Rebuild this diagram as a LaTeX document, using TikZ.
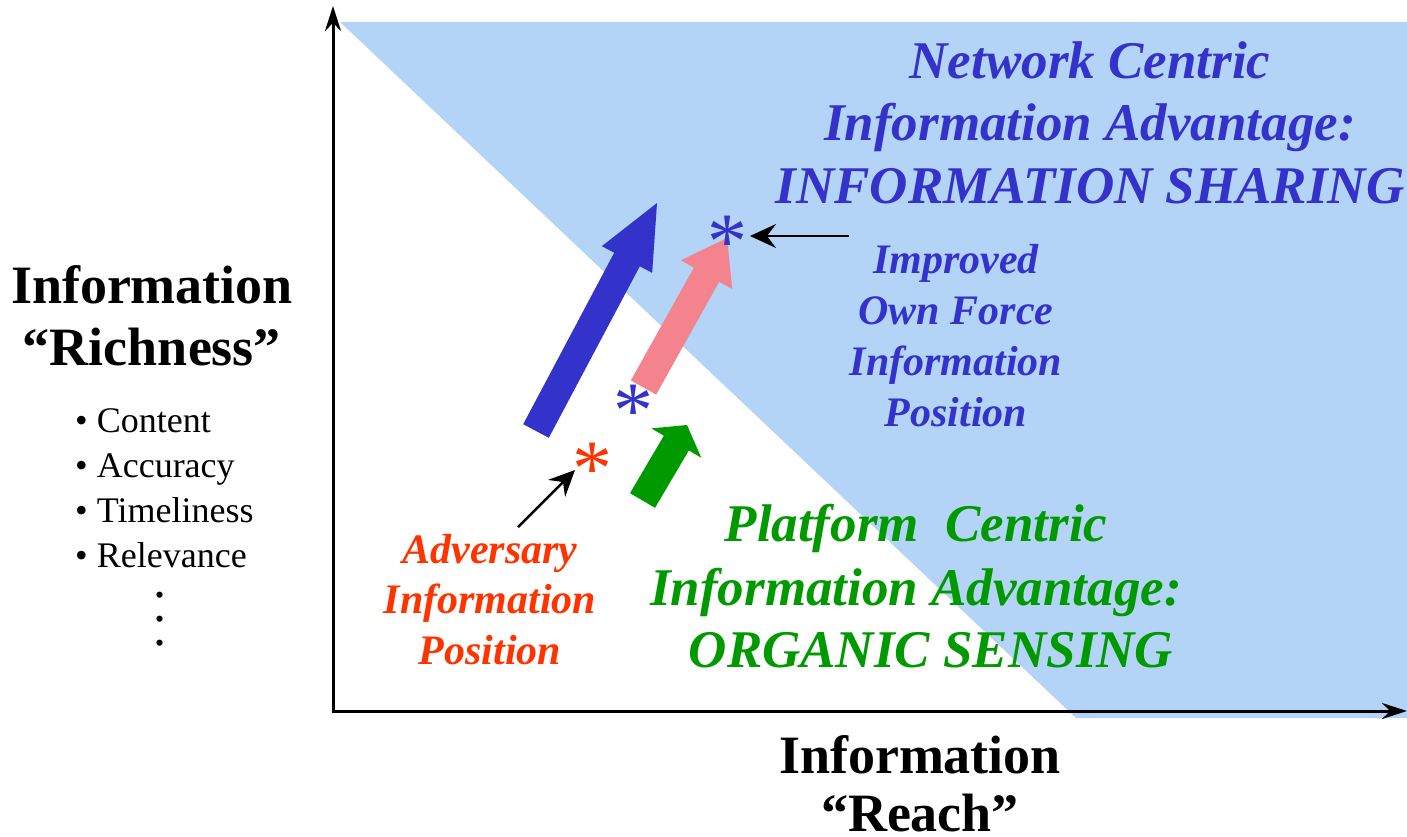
\documentclass[tikz,border=0pt]{standalone}
\usepackage{fontspec}
\setmainfont{Liberation Serif}
\usetikzlibrary{calc,arrows.meta}
\definecolor{ncblue}{RGB}{51,51,204}
\definecolor{pcgreen}{RGB}{0,153,0}
\definecolor{advred}{RGB}{255,51,0}
\definecolor{shadeblue}{RGB}{180,212,247}
\definecolor{pinkarr}{RGB}{243,132,142}
% block arrow: #1 tail, #2 tip, #3 shaft half width, #4 head half width, #5 head length, #6 fill
\newcommand{\blkarrow}[6]{%
  \path ($(#2)!#5!(#1)$) coordinate (hb);
  \fill[#6] ($(#1)!#3!90:(#2)$) -- ($(hb)!#3!90:(#2)$) -- ($(hb)!#4!90:(#2)$) -- (#2)
    -- ($(hb)!#4!-90:(#2)$) -- ($(hb)!#3!-90:(#2)$) -- ($(#1)!#3!-90:(#2)$) -- cycle;}
\begin{document}
\begin{tikzpicture}[x=1pt,y=-1pt,
  lbl/.style={inner sep=0pt, anchor=base},
  bigbi/.style={lbl, font=\fontsize{53}{62}\selectfont\bfseries\itshape},
  midbi/.style={lbl, font=\fontsize{42}{51}\selectfont\bfseries\itshape},
  axtitle/.style={lbl, font=\fontsize{54}{60}\selectfont\bfseries},
  bullet/.style={inner sep=0pt, anchor=base west, font=\fontsize{36}{44}\selectfont},
  ast/.style={inner sep=0pt, anchor=north, font=\fontsize{80}{80}\selectfont},
  axis/.style={line width=3pt, {Stealth[length=25pt,width=16pt]}-{Stealth[length=25pt,width=16pt]}},
  ptr/.style={line width=2.5pt, -{Stealth[length=26pt,width=24pt,inset=9pt]}}
]
\useasboundingbox (0,0) rectangle (1407,836);
% shaded region
\fill[shadeblue] (340,22) -- (1410,22) -- (1410,718) -- (1076,718) -- cycle;
% axes
\coordinate (O) at (333,711);
\coordinate (Ytip) at (333,6);
\coordinate (Xtip) at (1407,711);
\draw[axis] (Ytip) -- (O) -- (Xtip);
% block arrows
\coordinate (bT) at (536,431); \coordinate (bP) at (657,203);
\blkarrow{bT}{bP}{14.5pt}{28.5pt}{64pt}{ncblue}
\coordinate (pT) at (643.5,387.5); \coordinate (pP) at (727,238);
\blkarrow{pT}{pP}{14.5pt}{29.5pt}{42pt}{pinkarr}
\coordinate (gT) at (642.5,500.5); \coordinate (gP) at (687,425);
\blkarrow{gT}{gP}{14.5pt}{29pt}{21pt}{pcgreen}
% asterisks
\node[ast, text=ncblue] (astImp) at (727,216) {*};
\node[ast, text=ncblue] (astOwn) at (633,385) {*};
\node[ast, text=advred] (astAdv) at (592,443) {*};
% pointer arrows
\coordinate (impFrom) at (849,236);
\coordinate (impTo) at (750,236);
\draw[ptr] (impFrom) -- (impTo);
\coordinate (advFrom) at (518,527);
\coordinate (advTo) at (575,470);
\draw[ptr] (advFrom) -- (advTo);
% Network centric text
\node[bigbi, text=ncblue] (nc1) at (1090,78) {Network Centric};
\node[bigbi, text=ncblue] (nc2) at (1090,140) {Information Advantage:};
\node[bigbi, text=ncblue] (nc3) at (1090,203) {INFORMATION SHARING};
% Improved own force
\node[midbi, text=ncblue] (im1) at (956,273) {Improved};
\node[midbi, text=ncblue] (im2) at (956,324) {Own Force};
\node[midbi, text=ncblue] (im3) at (956,375) {Information};
\node[midbi, text=ncblue] (im4) at (956,426) {Position};
% Adversary
\node[midbi, text=advred] (ad1) at (490,563) {Adversary};
\node[midbi, text=advred] (ad2) at (490,613) {Information};
\node[midbi, text=advred] (ad3) at (490,664) {Position};
% Platform centric
\node[bigbi, text=pcgreen] (pc1) at (916,541) {Platform\ \ Centric};
\node[bigbi, text=pcgreen] (pc2) at (916,605) {Information Advantage:};
\node[bigbi, text=pcgreen] (pc3) at (931,667) {ORGANIC SENSING};
% y axis title
\node[axtitle] (yt1) at (152,303) {Information};
\node[axtitle] (yt2) at (152,365) {“Richness”};
\node[bullet] (b1) at (75,432) {• Content};
\node[bullet] (b2) at (75,477) {• Accuracy};
\node[bullet] (b3) at (75,522) {• Timeliness};
\node[bullet] (b4) at (75,567) {• Relevance};
\node[inner sep=0pt, anchor=north, align=center, font=\fontsize{52}{24}\selectfont] (dots) at (160,592) {.\\.\\.};
% x axis title
\node[axtitle] (xt1) at (920,773) {Information};
\node[axtitle] (xt2) at (920,831) {“Reach”};
\end{tikzpicture}
\end{document}
